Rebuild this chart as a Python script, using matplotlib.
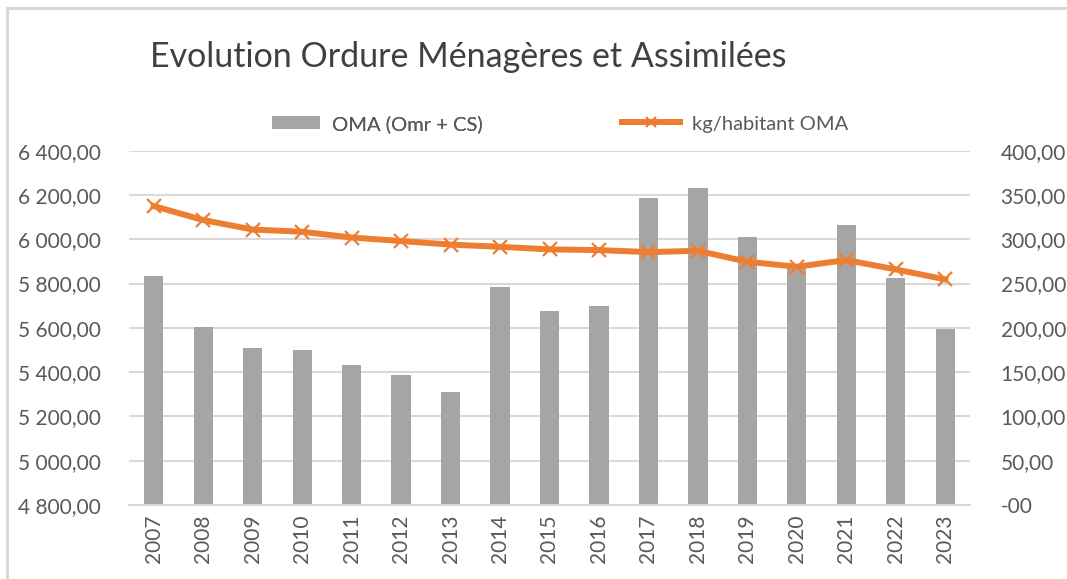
import matplotlib
matplotlib.use("Agg")
import matplotlib.pyplot as plt
from matplotlib.lines import Line2D
from matplotlib.patches import Patch
import numpy as np

plt.rcParams['font.family'] = ['Lato', 'DejaVu Sans']

years = ["2007", "2008", "2009", "2010", "2011", "2012", "2013", "2014", "2015",
         "2016", "2017", "2018", "2019", "2020", "2021", "2022", "2023"]
oma_tonnes = [5835, 5605, 5507, 5501, 5432, 5386, 5309, 5786, 5675,
              5699, 6185, 6232, 6012, 5872, 6063, 5826, 5595]
kg_per_hab = [337.5, 321.7, 311.0, 308.5, 302.0, 298.0, 294.0, 291.5, 288.6,
              287.8, 285.5, 287.0, 274.6, 269.0, 276.5, 266.0, 254.7]

left_ticks = [4800, 5000, 5200, 5400, 5600, 5800, 6000, 6200, 6400]
left_labels = ["4 800,00", "5 000,00", "5 200,00", "5 400,00", "5 600,00",
               "5 800,00", "6 000,00", "6 200,00", "6 400,00"]
right_ticks = [0, 50, 100, 150, 200, 250, 300, 350, 400]
right_labels = ["-00", "50,00", "100,00", "150,00", "200,00", "250,00",
                "300,00", "350,00", "400,00"]

title = "Evolution Ordure Ménagères et Assimilées"
bar_label = "OMA (Omr + CS)"
line_label = "kg/habitant OMA"

TXT = "#595959"
GRID = "#D9D9D9"
BAR = "#A5A5A5"
ORANGE = "#ED7D31"

W, H = 1067, 579
fig = plt.figure(figsize=(W / 100, H / 100), dpi=100)

# outer frame (top + left border of the chart area)
fig.add_artist(Line2D([7 / W, 1.0], [1 - 8 / H, 1 - 8 / H], transform=fig.transFigure,
                      color=GRID, lw=2.2))
fig.add_artist(Line2D([7 / W, 7 / W], [0, 1 - 8 / H], transform=fig.transFigure,
                      color=GRID, lw=2.2))

ax = fig.add_axes([129 / W, 1 - 505 / H, (970 - 129) / W, (505 - 150.7) / H])
x = np.arange(len(years))
ax.bar(x, oma_tonnes, width=0.39, color=BAR, zorder=2)
ax.set_ylim(4800, 6400)
ax.set_xlim(-0.5, len(years) - 0.5)
ax.set_yticks(left_ticks)
ax.set_yticklabels(left_labels)
ax.set_xticks(x)
ax.set_xticklabels(years, rotation=90)
ax.grid(axis='y', color=GRID, lw=1.5, zorder=0)
ax.set_axisbelow(True)
for s in ['top', 'right', 'left']:
    ax.spines[s].set_visible(False)
ax.spines['bottom'].set_color(GRID)
ax.spines['bottom'].set_linewidth(1.5)
ax.tick_params(axis='y', length=0, pad=20, labelsize=15, labelcolor=TXT)
ax.tick_params(axis='x', length=0, pad=7, labelsize=15, labelcolor=TXT)

ax2 = ax.twinx()
ax2.plot(x, kg_per_hab, color=ORANGE, lw=4.3, marker='x', markersize=10,
         markeredgewidth=1.6, zorder=3)
ax2.set_ylim(0, 400)
ax2.set_yticks(right_ticks)
ax2.set_yticklabels(right_labels)
for s in ax2.spines.values():
    s.set_visible(False)
ax2.tick_params(axis='y', length=0, pad=22, labelsize=15, labelcolor=TXT)

fig.text(150 / W, 1 - 57 / H, title, fontsize=24.5, color="#404040",
         ha='left', va='center')

h_bar = Patch(facecolor=BAR, edgecolor='none')
h_line = Line2D([], [], color=ORANGE, lw=4.3, marker='x', markersize=7,
                markeredgewidth=1.5)
common = dict(loc='center left', frameon=False, fontsize=14.5, labelcolor=TXT,
              borderpad=0, borderaxespad=0, handletextpad=0.6)
leg1 = fig.legend([h_bar], [bar_label], bbox_to_anchor=(272 / W, 1 - 124 / H),
                  handlelength=2.4, handleheight=0.6, **common)
fig.add_artist(leg1)
fig.legend([h_line], [line_label], bbox_to_anchor=(622 / W, 1 - 124 / H),
           handlelength=2.9, **common)

fig.savefig("out.png", dpi=100)
